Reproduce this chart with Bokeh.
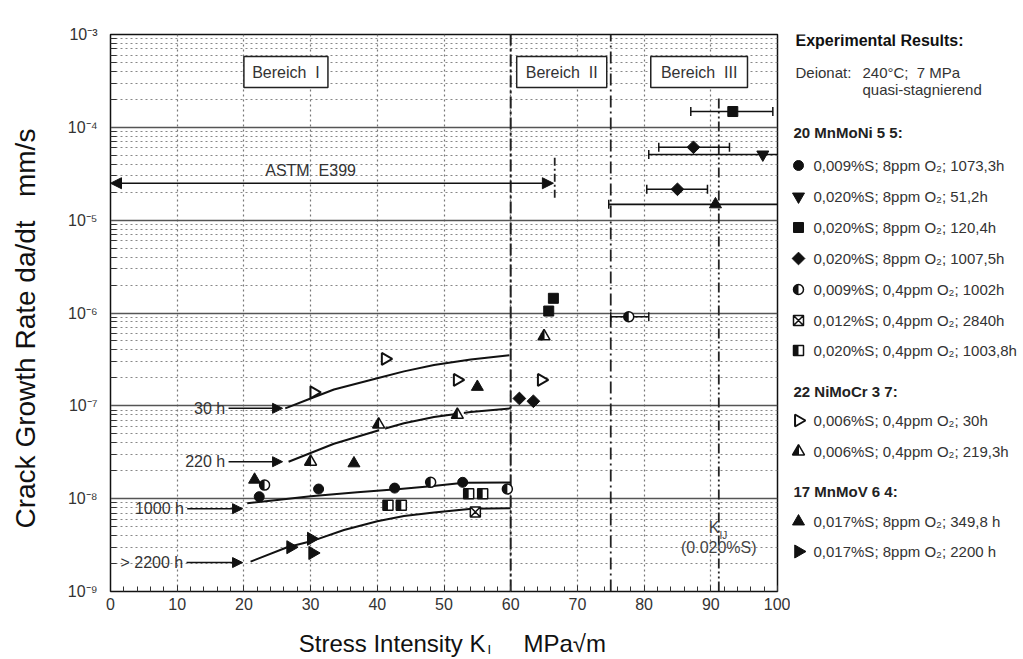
import numpy as np
from bokeh.plotting import figure
from bokeh.models import Range1d, FixedTicker, Label, Arrow, NormalHead
from bokeh.layouts import row, column
from bokeh.embed import file_html
from bokeh.resources import INLINE

FONT = "Liberation Sans"
BLK = "#111111"
NB = "\u00a0"

# ---------------- axes ----------------
x_ticks = [0, 10, 20, 30, 40, 50, 60, 70, 80, 90, 100]
x_tick_labels = ["0", "10", "20", "30", "40", "50", "60", "70", "80", "90", "100"]
x_minor_ticks = list(range(0, 101, 2))
y_ticks = [1e-9, 1e-8, 1e-7, 1e-6, 1e-5, 1e-4, 1e-3]
y_tick_labels = ["10⁻⁹", "10⁻⁸", "10⁻⁷", "10⁻⁶", "10⁻⁵", "10⁻⁴", "10⁻³"]
y_minor_ticks = [m * 10.0 ** e for e in range(-9, -3) for m in range(2, 10)]

# ---------------- data (K in MPa*sqrt(m), da/dt in mm/s) ----------------
# 20 MnMoNi 5 5
mnmoni_s009_8ppm_x = [22.3, 31.2, 42.6, 52.8]
mnmoni_s009_8ppm_y = [1.05e-8, 1.27e-8, 1.3e-8, 1.5e-8]
mnmoni_s020_51h_x = [97.8]
mnmoni_s020_51h_y = [5.1e-5]
mnmoni_s020_120h_x = [93.3, 65.7, 66.4]
mnmoni_s020_120h_y = [1.48e-4, 1.05e-6, 1.44e-6]
mnmoni_s020_1007h_x = [87.4, 85.0, 61.3, 63.4]
mnmoni_s020_1007h_y = [6.1e-5, 2.15e-5, 1.2e-7, 1.12e-7]
mnmoni_s009_04ppm_x = [23.1, 48.0, 59.5, 77.7]
mnmoni_s009_04ppm_y = [1.4e-8, 1.5e-8, 1.27e-8, 9.1e-7]
mnmoni_s012_2840h_x = [54.7]
mnmoni_s012_2840h_y = [7.2e-9]
mnmoni_s020_04ppm_x = [41.6, 43.6, 53.7, 55.8]
mnmoni_s020_04ppm_y = [8.5e-9, 8.5e-9, 1.13e-8, 1.13e-8]
# 22 NiMoCr 3 7
nimocr_30h_x = [30.5, 41.2, 52.0, 64.6]
nimocr_30h_y = [1.4e-7, 3.2e-7, 1.9e-7, 1.9e-7]
nimocr_219h_x = [30.0, 40.2, 52.0, 65.0]
nimocr_219h_y = [2.5e-8, 6.3e-8, 8.0e-8, 5.6e-7]
# 17 MnMoV 6 4
mnmov_350h_x = [21.6, 36.5, 55.0, 90.7]
mnmov_350h_y = [1.6e-8, 2.4e-8, 1.6e-7, 1.48e-5]
mnmov_2200h_x = [27.0, 30.1, 30.3]
mnmov_2200h_y = [3.0e-9, 3.7e-9, 2.6e-9]

# scatter bands (horizontal error bars)
err_y = [1.48e-4, 6.1e-5, 5.1e-5, 2.15e-5, 1.48e-5, 9.1e-7]
err_lo = [87.0, 82.2, 80.7, 80.4, 74.7, 75.0]
err_hi = [99.3, 92.8, 103.0, 89.5, 103.0, 80.7]

# trend curves for exposure times
curve_30h_x = [26.2, 30.0, 33.5, 40.0, 44.0, 48.5, 54.0, 59.8]
curve_30h_y = [9.4e-8, 1.2e-7, 1.5e-7, 1.98e-7, 2.35e-7, 2.75e-7, 3.15e-7, 3.5e-7]
curve_220h_x = [26.7, 30.0, 33.5, 40.0, 44.0, 48.5, 54.0, 60.0]
curve_220h_y = [2.5e-8, 3.1e-8, 3.9e-8, 5.4e-8, 6.5e-8, 7.6e-8, 8.6e-8, 9.4e-8]
curve_1000h_x = [20.5, 25.0, 30.0, 37.0, 43.4, 48.0, 53.0, 60.0]
curve_1000h_y = [8.9e-9, 9.7e-9, 1.06e-8, 1.17e-8, 1.27e-8, 1.36e-8, 1.48e-8, 1.49e-8]
curve_2200h_x = [21.0, 26.5, 30.5, 35.0, 40.0, 44.0, 48.5, 54.2, 60.0]
curve_2200h_y = [2.1e-9, 3.0e-9, 3.55e-9, 4.6e-9, 5.7e-9, 6.5e-9, 7.1e-9, 7.8e-9, 7.9e-9]

curve_label_text = ["30 h", "220 h", "1000 h", "> 2200 h"]
curve_label_y = [9.4e-8, 2.5e-8, 7.8e-9, 2.05e-9]
curve_arrow_x0 = [17.7, 17.7, 11.5, 11.4]
curve_arrow_x1 = [25.8, 25.8, 19.8, 19.8]

region_bounds = [60.0, 75.0]
kij_x = 91.2
kij_top = 2.05e-4
astm_x_end = 66.4
astm_y = 2.5e-5

bereich_text = ["Bereich" + NB * 2 + "I", "Bereich" + NB * 2 + "II", "Bereich" + NB * 2 + "III"]
bereich_left = [20.0, 60.9, 81.0]
bereich_right = [32.6, 74.4, 95.5]

DX_MAIN = 100.0 / 667.0


def draw_marker(fig, kind, xs, ys, dx, size=11):
    xs = list(xs)
    ys = list(ys)
    if kind == "circle":
        fig.scatter(xs, ys, marker="circle", size=size - 1, fill_color=BLK, line_color=BLK)
    elif kind == "inverted_triangle":
        fig.scatter(xs, ys, marker="inverted_triangle", size=size + 1, fill_color=BLK, line_color=BLK)
    elif kind == "square":
        fig.scatter(xs, ys, marker="square", size=size - 1, fill_color=BLK, line_color=BLK)
    elif kind == "diamond":
        fig.scatter(xs, ys, marker="square", angle=np.pi / 4, size=size - 2,
                    fill_color=BLK, line_color=BLK)
    elif kind == "triangle":
        fig.scatter(xs, ys, marker="triangle", size=size + 1, fill_color=BLK, line_color=BLK)
    elif kind == "right":
        fig.scatter(xs, ys, marker="triangle", angle=-np.pi / 2, size=size + 2,
                    fill_color=BLK, line_color=BLK)
    elif kind == "open_right":
        fig.scatter(xs, ys, marker="triangle", angle=-np.pi / 2, size=size + 1,
                    fill_color="white", line_color=BLK, line_width=2)
    elif kind == "square_x":
        fig.scatter(xs, ys, marker="square_x", size=size - 1, fill_color="white",
                    line_color=BLK, line_width=1.5)
    elif kind == "half_circle":
        fig.scatter(xs, ys, marker="circle", size=size - 1, fill_color="white",
                    line_color=BLK, line_width=1.5)
        fig.wedge(x=xs, y=ys, radius=(size - 1) / 2, radius_units="screen",
                  start_angle=np.pi / 2, end_angle=3 * np.pi / 2,
                  fill_color=BLK, line_color=None)
    elif kind == "half_square":
        fig.scatter(xs, ys, marker="square", size=size - 1, fill_color="white",
                    line_color=BLK, line_width=1.5)
        s = size - 1
        fig.rect(x=[x - s * dx / 4 for x in xs], y=ys, width=s * dx / 2,
                 height=s, height_units="screen", fill_color=BLK, line_color=None)
    elif kind == "half_tri":
        s = size + 1
        fig.scatter(xs, ys, marker="triangle", size=s, fill_color=BLK, line_color=None)
        fig.rect(x=[x + s * dx / 4 + 0.5 * dx for x in xs], y=ys, width=s * dx / 2,
                 height=s + 2, height_units="screen", fill_color="white", line_color=None)
        fig.scatter(xs, ys, marker="triangle", size=s, fill_color=None,
                    line_color=BLK, line_width=1.5)


def lab(fig, x, y, text, size="15px", bold=False, align="left", baseline="middle",
        color="#222222", angle=0.0):
    fig.add_layout(Label(x=x, y=y, text=text, text_font=FONT, text_font_size=size,
                         text_font_style="bold" if bold else "normal",
                         text_align=align, text_baseline=baseline,
                         text_color=color, angle=angle))


TOP_H = 622

# ---------------- main figure ----------------
p = figure(width=790, height=TOP_H, x_range=Range1d(0, 100), y_range=Range1d(1e-9, 1e-3),
           y_axis_type="log", output_backend="svg", toolbar_location=None,
           min_border_left=110, min_border_right=13, min_border_top=34,
           min_border_bottom=TOP_H - 591)
p.background_fill_color = "white"
p.border_fill_color = "white"
p.outline_line_color = BLK
p.outline_line_width = 1.5

xt = FixedTicker(ticks=x_ticks, minor_ticks=x_minor_ticks)
yt = FixedTicker(ticks=y_ticks, minor_ticks=y_minor_ticks)
p.xaxis.ticker = xt
p.yaxis.ticker = yt
p.xgrid.ticker = xt
p.ygrid.ticker = yt
p.xaxis.major_label_overrides = {t: l for t, l in zip(x_ticks, x_tick_labels)}
p.yaxis.major_label_overrides = {t: l for t, l in zip(y_ticks, y_tick_labels)}

for ax in (p.xaxis, p.yaxis):
    ax.axis_line_color = BLK
    ax.major_tick_out = 0
    ax.minor_tick_out = 0
    ax.major_tick_line_color = "#333333"
    ax.minor_tick_line_color = "#333333"
    ax.major_label_text_font = FONT
    ax.major_label_text_color = "#333333"
p.xaxis.major_tick_in = 6
p.xaxis.minor_tick_in = 5
p.yaxis.major_tick_in = 0
p.yaxis.minor_tick_in = 6
p.xaxis.major_label_text_font_size = "16px"
p.yaxis.major_label_text_font_size = "16px"
p.xaxis.major_label_standoff = 6
p.yaxis.major_label_standoff = 13

p.yaxis.axis_label = "Crack Growth Rate da/dt" + NB * 3 + "mm/s" + NB * 4
p.yaxis.axis_label_text_font = FONT
p.yaxis.axis_label_text_font_size = "28px"
p.yaxis.axis_label_text_font_style = "normal"
p.yaxis.axis_label_text_color = BLK
p.yaxis.axis_label_standoff = 24

p.xgrid.grid_line_color = "#777777"
p.xgrid.grid_line_dash = "2 3"
p.xgrid.grid_line_width = 1.2
p.ygrid.grid_line_color = "#555555"
p.ygrid.grid_line_width = 1.5
p.ygrid.minor_grid_line_color = "#888888"
p.ygrid.minor_grid_line_dash = "2 3"
p.ygrid.minor_grid_line_width = 1.2

# region boundaries
p.segment(x0=[region_bounds[0]], y0=[1e-9], x1=[region_bounds[0]], y1=[1e-3],
          line_color="#222222", line_width=2, line_dash="12 3 3 3")
p.segment(x0=[region_bounds[1]], y0=[1e-9], x1=[region_bounds[1]], y1=[1e-3],
          line_color="#222222", line_width=1.8, line_dash="12 4 2 4")
p.segment(x0=[kij_x], y0=[1e-9], x1=[kij_x], y1=[kij_top],
          line_color="#222222", line_width=1.8, line_dash="10 3 2 3 2 3")

# Bereich boxes
p.quad(left=bereich_left, right=bereich_right, top=[5.79e-4] * 3, bottom=[2.69e-4] * 3,
       fill_color="white", line_color="#222222", line_width=1.5)
for t, l, r in zip(bereich_text, bereich_left, bereich_right):
    lab(p, (l + r) / 2, 3.94e-4, t, size="16px", align="center", color="#333333")

# ASTM E399 range
p.add_layout(Arrow(start=NormalHead(size=11, fill_color=BLK, line_color=BLK),
                   end=NormalHead(size=11, fill_color=BLK, line_color=BLK),
                   x_start=0, y_start=astm_y, x_end=astm_x_end, y_end=astm_y,
                   line_color=BLK, line_width=1.5))
p.segment(x0=[astm_x_end + 0.2], y0=[1.74e-5], x1=[astm_x_end + 0.2], y1=[5.0e-5],
          line_color="#222222", line_width=1.8, line_dash="8 3 2 3")
lab(p, 30.0, 3.4e-5, "ASTM" + NB * 2 + "E399", size="16px", align="center", color="#333333")

# trend curves
for cx, cy in ((curve_30h_x, curve_30h_y), (curve_220h_x, curve_220h_y),
               (curve_1000h_x, curve_1000h_y), (curve_2200h_x, curve_2200h_y)):
    p.line(cx, cy, line_color=BLK, line_width=2)
for t, yy, x0, x1 in zip(curve_label_text, curve_label_y, curve_arrow_x0, curve_arrow_x1):
    p.add_layout(Arrow(end=NormalHead(size=10, fill_color=BLK, line_color=BLK),
                       x_start=x0, y_start=yy, x_end=x1, y_end=yy,
                       line_color=BLK, line_width=1.5))
    lab(p, x0 - 0.5, yy, t, size="16px", align="right", color="#333333")

# error bars
p.segment(x0=err_lo, y0=err_y, x1=err_hi, y1=err_y, line_color=BLK, line_width=1.6)
p.scatter(err_lo + err_hi, err_y + err_y, marker="dash", angle=np.pi / 2, size=9,
          line_color=BLK, line_width=1.5)

# markers
series = [
    ("circle", mnmoni_s009_8ppm_x, mnmoni_s009_8ppm_y),
    ("inverted_triangle", mnmoni_s020_51h_x, mnmoni_s020_51h_y),
    ("square", mnmoni_s020_120h_x, mnmoni_s020_120h_y),
    ("diamond", mnmoni_s020_1007h_x, mnmoni_s020_1007h_y),
    ("half_circle", mnmoni_s009_04ppm_x, mnmoni_s009_04ppm_y),
    ("square_x", mnmoni_s012_2840h_x, mnmoni_s012_2840h_y),
    ("half_square", mnmoni_s020_04ppm_x, mnmoni_s020_04ppm_y),
    ("open_right", nimocr_30h_x, nimocr_30h_y),
    ("half_tri", nimocr_219h_x, nimocr_219h_y),
    ("triangle", mnmov_350h_x, mnmov_350h_y),
    ("right", mnmov_2200h_x, mnmov_2200h_y),
]
for kind, xs, ys in series:
    draw_marker(p, kind, xs, ys, DX_MAIN)

# K_IJ annotation
lab(p, 91.3, 4.89e-9, "K", size="16px", align="right", color="#444444")
lab(p, 91.3, 4.0e-9, "IJ", size="10px", align="left", color="#444444")
lab(p, 91.2, 2.98e-9, "(0.020%S)", size="16px", align="center", color="#444444")

# ---------------- legend panel (page-pixel coordinates) ----------------
q = figure(width=233, height=TOP_H, x_range=Range1d(790, 1023), y_range=Range1d(591, 34),
           output_backend="svg", toolbar_location=None, x_axis_location=None,
           y_axis_location=None, min_border=0, min_border_top=34,
           min_border_bottom=TOP_H - 591)
q.grid.visible = False
q.outline_line_color = None
q.background_fill_color = "white"
q.border_fill_color = "white"

lab(q, 795, 40, "Experimental Results:", size="16px", bold=True, color=BLK)
lab(q, 795, 72, "Deionat:", size="15px", color="#333333")
lab(q, 862, 72, "240°C;" + NB * 2 + "7 MPa", size="15px", color="#333333")
lab(q, 862, 89, "quasi-stagnierend", size="15px", color="#333333")

legend_groups = ["20 MnMoNi 5 5:", "22 NiMoCr 3 7:", "17 MnMoV 6 4:"]
legend_group_y = [132, 391, 491]
legend_text = [
    "0,009%S; 8ppm O₂; 1073,3h",
    "0,020%S; 8ppm O₂; 51,2h",
    "0,020%S; 8ppm O₂; 120,4h",
    "0,020%S; 8ppm O₂; 1007,5h",
    "0,009%S; 0,4ppm O₂; 1002h",
    "0,012%S; 0,4ppm O₂; 2840h",
    "0,020%S; 0,4ppm O₂; 1003,8h",
    "0,006%S; 0,4ppm O₂; 30h",
    "0,006%S; 0,4ppm O₂; 219,3h",
    "0,017%S; 8ppm O₂; 349,8 h",
    "0,017%S; 8ppm O₂; 2200 h",
]
legend_y = [165, 196, 227, 258, 289, 320, 350, 420, 451, 521, 551]

for g, gy in zip(legend_groups, legend_group_y):
    lab(q, 793, gy, g, size="15px", bold=True, color="#222222")
for (kind, _, _), t, ly in zip(series, legend_text, legend_y):
    draw_marker(q, kind, [798], [ly], 1.0)
    lab(q, 813, ly, t, size="15px", color="#333333")

# ---------------- x-axis title panel ----------------
b = figure(width=1023, height=659 - TOP_H, x_range=Range1d(0, 1023),
           y_range=Range1d(659, TOP_H), output_backend="svg", toolbar_location=None,
           x_axis_location=None, y_axis_location=None, min_border=0)
b.grid.visible = False
b.outline_line_color = None
b.background_fill_color = "white"
b.border_fill_color = "white"
lab(b, 485, 643, "Stress Intensity K", size="24px", align="right", baseline="alphabetic",
    color=BLK)
lab(b, 487, 649, "I", size="13px", align="left", baseline="alphabetic", color=BLK)
lab(b, 523, 643, "MPa√m", size="24px", align="left", baseline="alphabetic", color=BLK)

layout = column(row(p, q), b)
open("out.html", "w").write(file_html(layout, INLINE))
